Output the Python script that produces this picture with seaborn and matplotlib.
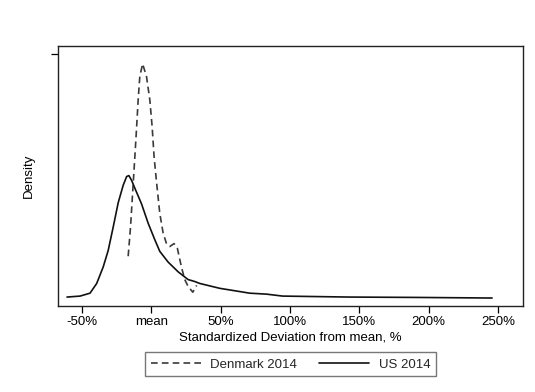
import matplotlib
matplotlib.use("Agg")
import matplotlib.pyplot as plt
import seaborn as sns
import pandas as pd

# Data (x: % deviation from mean, y: density)
us_x = [-60.8, -51.4, -44.2, -39.4, -34.7, -31.1, -27.5, -23.9, -20.3, -17.8,
        -16.2, -14.2, -11.9, -7.1, -2.3, 2.5, 6.1, 12.1, 19.3, 26.5,
        31.3, 34.9, 49.3, 70.9, 83.1, 94.6, 142.8, 193.0, 245.7]
us_y = [0.0003, 0.0004, 0.0007, 0.0017, 0.0034, 0.0051, 0.0075, 0.0100, 0.0118, 0.0127,
        0.0128, 0.0123, 0.0115, 0.0099, 0.0079, 0.0062, 0.0050, 0.0039, 0.0029, 0.0021,
        0.0019, 0.0017, 0.0012, 0.0007, 0.0006, 0.0004, 0.0003, 0.00026, 0.0002]

dk_x = [-16.7, -15.0, -13.5, -11.9, -10.6, -9.5, -8.3, -6.3, -3.5, -1.1,
        0.6, 2.0, 3.7, 6.1, 8.5, 10.9, 13.3, 16.4, 18.8, 21.7,
        24.1, 26.5, 29.9, 32.7]
dk_y = [0.0045, 0.0075, 0.0110, 0.0147, 0.0178, 0.0206, 0.0230, 0.0243, 0.0230, 0.0206,
        0.0178, 0.0147, 0.0122, 0.0089, 0.0069, 0.0058, 0.0055, 0.0058, 0.0053, 0.0034,
        0.0021, 0.0014, 0.0008, 0.0015]

xticks = [-50, 0, 50, 100, 150, 200, 250]
xtick_labels = ["-50%", "mean", "50%", "100%", "150%", "200%", "250%"]
ytick = [0.0253]

sns.set_theme(style="white")
plt.rcParams["font.family"] = ["Liberation Sans", "DejaVu Sans"]
plt.rcParams["lines.solid_joinstyle"] = "round"
plt.rcParams["lines.dash_joinstyle"] = "round"

df = pd.concat([
    pd.DataFrame({"x": dk_x, "y": dk_y, "series": "Denmark 2014"}),
    pd.DataFrame({"x": us_x, "y": us_y, "series": "US 2014"}),
])

fig = plt.figure(figsize=(5.35, 3.92), dpi=100)
ax = fig.add_axes([58 / 535, 1 - 306 / 392, (523 - 58) / 535, (306 - 46) / 392])

sns.lineplot(data=df, x="x", y="y", hue="series", style="series",
             palette={"Denmark 2014": "#3a3a3a", "US 2014": "#111111"},
             dashes={"Denmark 2014": (4, 2.5), "US 2014": ""},
             sort=False, estimator=None, linewidth=1.2, ax=ax, legend=True)

fs = 9.5
ax.set_xlim(-67.3, 268)
ax.set_ylim(-0.00062, 0.02613)
ax.set_xticks(xticks)
ax.set_xticklabels(xtick_labels)
ax.set_yticks(ytick)
ax.set_yticklabels([""])
ax.tick_params(axis="both", direction="out", length=5, width=0.9, color="black",
               labelsize=fs, labelcolor="black", bottom=True, left=True, pad=2)
for s in ax.spines.values():
    s.set_color("#222222")
    s.set_linewidth(1.0)
ax.set_xlabel("Standardized Deviation from mean, %", fontsize=fs, color="black", labelpad=2.5)
ax.set_ylabel("Density", fontsize=fs, color="black", labelpad=10)

handles, labels = ax.get_legend_handles_labels()
leg = ax.legend(handles, labels, loc="upper center", bbox_to_anchor=(0.5, -0.153),
                ncol=2, frameon=True, fancybox=False, fontsize=fs,
                handlelength=3.8, columnspacing=1.7, borderpad=0.45, handletextpad=0.7)
leg.get_frame().set_edgecolor("#555555")
leg.get_frame().set_linewidth(1.0)

fig.savefig("out.png", dpi=100)
